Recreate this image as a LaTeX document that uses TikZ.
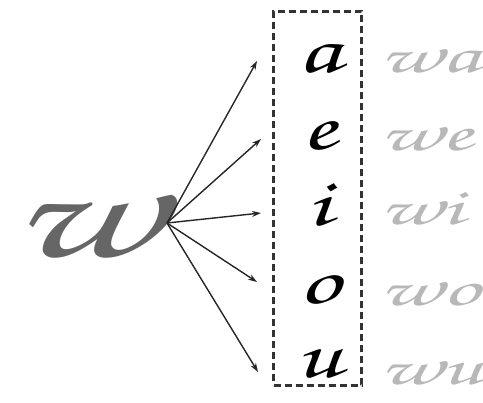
\documentclass[tikz,border=0pt]{standalone}
\usepackage[T1,TU]{fontenc}
\usetikzlibrary{arrows.meta}
\newcommand\cursivefont{\fontencoding{T1}\fontfamily{pzc}\fontseries{mb}\fontshape{it}\selectfont}
\begin{document}
\begin{tikzpicture}[x=1pt,y=-1pt,
  vowel/.style={inner sep=0pt,anchor=base,xscale=1.5,text=black,font=\cursivefont\fontsize{68}{68}\selectfont},
  trace/.style={inner sep=0pt,anchor=base west,xscale=1.75,text=black!28,font=\cursivefont\fontsize{52}{52}\selectfont},
  link/.style={line width=1.4pt,draw=black!85,-{Stealth[length=9pt,width=6pt]}},
  frame/.style={draw=black!80,line width=3pt,dash pattern=on 7pt off 4pt,minimum width=88pt,minimum height=374pt,inner sep=0pt}]
\useasboundingbox (0,0) rectangle (483,403);
\node[frame] (box) at (317.5,198.5) {};
\node[inner sep=0pt,text=black!60,xscale=1.6,font=\cursivefont\fontsize{138}{138}\selectfont] (bigw) at (86,224) {w};
\coordinate (wend) at (167,223);
\node[vowel] (la) at (319,73) {a};
\node[vowel] (le) at (319,150) {e};
\node[vowel] (li) at (319,226) {i};
\node[vowel] (lo) at (319,304) {o};
\node[vowel] (lu) at (319,378) {u};
\node[trace] (wa) at (379,73) {wa};
\node[trace] (we) at (379,151) {we};
\node[trace] (wi) at (379,225) {wi};
\node[trace] (wo) at (379,306) {wo};
\node[trace] (wu) at (379,385) {wu};
\coordinate (ta) at (257,61);
\coordinate (te) at (261,139);
\coordinate (ti) at (261,213);
\coordinate (to) at (257,282);
\coordinate (tu) at (258,372);
\foreach \t in {ta,te,ti,to,tu} \draw[link] (wend) -- (\t);
\end{tikzpicture}
\end{document}
